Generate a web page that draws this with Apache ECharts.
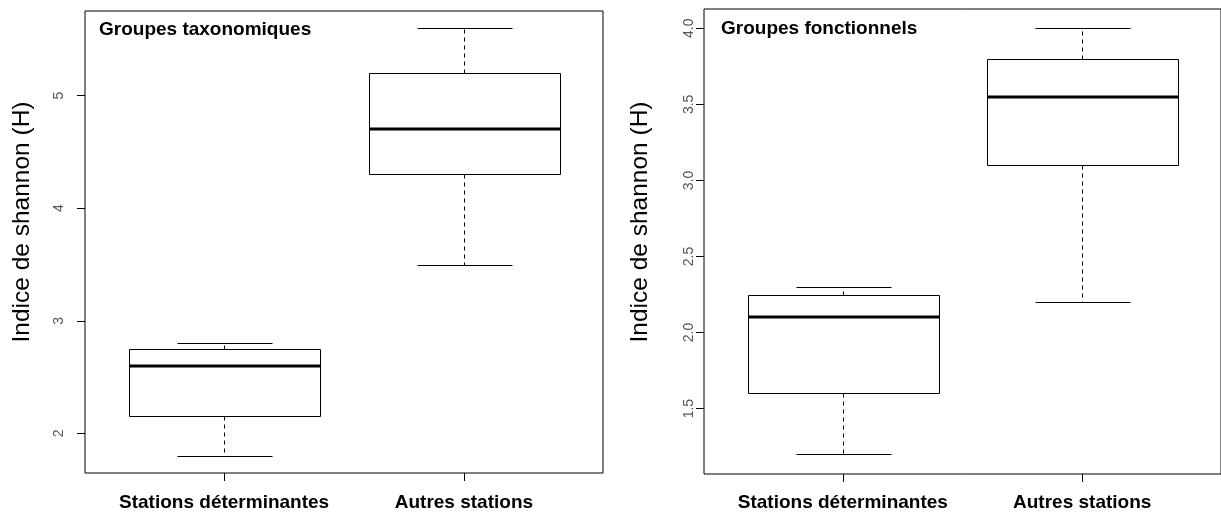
<!DOCTYPE html>
<html>
<head>
<meta charset="utf-8">
<script src="https://cdn.jsdelivr.net/npm/echarts@6/dist/echarts.min.js"></script>
<style>
  html, body { margin: 0; padding: 0; background: #fff; }
  #chart { width: 1221px; height: 514px; }
</style>
</head>
<body>
<div id="chart"></div>
<script>
// Station groups shown on the x axis of both panels
const categories = ['Stations déterminantes', 'Autres stations'];

// Box statistics per group: [lower whisker, Q1, median, Q3, upper whisker]
const taxoStats = [
  [1.8, 2.15, 2.6, 2.75, 2.8],
  [3.5, 4.3, 4.7, 5.2, 5.6]
];
const fonctStats = [
  [1.2, 1.6, 2.1, 2.25, 2.3],
  [2.2, 3.1, 3.55, 3.8, 4.0]
];

// Tick values of the y axes
const taxoTicks = [2, 3, 4, 5];
const fonctTicks = [1.5, 2.0, 2.5, 3.0, 3.5, 4.0];

// Panel titles and axis title
const panelTitles = ['Groupes taxonomiques', 'Groupes fonctionnels'];
const yTitle = 'Indice de shannon (H)';

const FONT = '"Liberation Sans", Arial, Helvetica, sans-serif';
const BOX_WEX = 0.8;   // box width in x units
const STAPLE = 0.5;    // cap width relative to the box

const chart = echarts.init(document.getElementById('chart'), null, { renderer: 'canvas' });

function crisp(v) { return Math.round(v) + 0.5; }

function renderBox(params, api) {
  const x = api.value(0);
  const pLo = api.coord([x, api.value(1)]);
  const pQ1 = api.coord([x, api.value(2)]);
  const pMed = api.coord([x, api.value(3)]);
  const pQ3 = api.coord([x, api.value(4)]);
  const pHi = api.coord([x, api.value(5)]);
  const half = api.size([BOX_WEX, 0])[0] / 2;
  const capHalf = half * STAPLE;
  const cx = crisp(pMed[0]);
  const left = crisp(cx - half), right = crisp(cx + half);
  const stroke = { stroke: '#000', lineWidth: 1, fill: null };
  const dashed = { stroke: '#000', lineWidth: 1, lineDash: [4, 4], fill: null };
  const yLo = crisp(pLo[1]), yQ1 = crisp(pQ1[1]), yQ3 = crisp(pQ3[1]), yHi = crisp(pHi[1]);
  return {
    type: 'group',
    children: [
      { type: 'line', shape: { x1: cx, y1: yQ3, x2: cx, y2: yHi }, style: dashed },
      { type: 'line', shape: { x1: cx, y1: yQ1, x2: cx, y2: yLo }, style: dashed },
      { type: 'line', shape: { x1: crisp(cx - capHalf), y1: yHi, x2: crisp(cx + capHalf), y2: yHi }, style: stroke },
      { type: 'line', shape: { x1: crisp(cx - capHalf), y1: yLo, x2: crisp(cx + capHalf), y2: yLo }, style: stroke },
      { type: 'rect', shape: { x: left, y: yQ3, width: right - left, height: yQ1 - yQ3 },
        style: { stroke: '#000', lineWidth: 1, fill: '#fff' } },
      { type: 'line', shape: { x1: left, y1: Math.round(pMed[1]), x2: right, y2: Math.round(pMed[1]) },
        style: { stroke: '#000', lineWidth: 3 } }
    ]
  };
}

function xAxisFor(gridIndex, margin) {
  return {
    type: 'value', gridIndex, min: 0.42, max: 2.58,
    axisLine: { show: false },
    splitLine: { show: false },
    axisTick: { show: true, length: 8, customValues: [1, 2], lineStyle: { color: '#000' } },
    axisLabel: {
      customValues: [1, 2], margin,
      formatter: v => categories[Math.round(v) - 1],
      fontFamily: FONT, fontSize: 19, fontWeight: 'bold', color: '#000'
    }
  };
}

function yAxisFor(gridIndex, min, max, ticks, digits, labelMargin) {
  return {
    type: 'value', gridIndex, min, max,
    axisLine: { show: false },
    splitLine: { show: false },
    axisTick: { show: true, length: 8, customValues: ticks, lineStyle: { color: '#000' } },
    axisLabel: {
      customValues: ticks, rotate: 90, margin: labelMargin,
      formatter: v => v.toFixed(digits),
      fontFamily: FONT, fontSize: 14, color: '#555'
    }
  };
}

// Rotated y-axis title placed beside each panel
function yTitleText(cx, cy) {
  return {
    type: 'text', x: cx, y: cy, rotation: Math.PI / 2,
    style: { text: yTitle, font: '24.5px ' + FONT, fill: '#000', align: 'center', verticalAlign: 'middle' }
  };
}

const option = {
  backgroundColor: '#fff',
  animation: false,
  grid: [
    { left: 85, top: 11, width: 518, height: 462, show: true, borderColor: '#000', borderWidth: 1, backgroundColor: 'transparent' },
    { left: 704, top: 9, width: 518, height: 465, show: true, borderColor: '#000', borderWidth: 1, backgroundColor: 'transparent' }
  ],
  xAxis: [xAxisFor(0, 20), xAxisFor(1, 19)],
  yAxis: [
    yAxisFor(0, 1.648, 5.752, taxoTicks, 0, 19),
    yAxisFor(1, 1.07, 4.127, fonctTicks, 1, 8)
  ],
  graphic: [
    { type: 'text', left: 99, top: 20, style: { text: panelTitles[0], font: 'bold 19px ' + FONT, fill: '#000' } },
    { type: 'text', left: 721, top: 19, style: { text: panelTitles[1], font: 'bold 19px ' + FONT, fill: '#000' } },
    yTitleText(22, 222),
    yTitleText(640, 222)
  ],
  series: [
    {
      type: 'custom', xAxisIndex: 0, yAxisIndex: 0,
      renderItem: renderBox,
      encode: { x: 0, y: [1, 2, 3, 4, 5] },
      data: taxoStats.map((s, i) => [i + 1].concat(s))
    },
    {
      type: 'custom', xAxisIndex: 1, yAxisIndex: 1,
      renderItem: renderBox,
      encode: { x: 0, y: [1, 2, 3, 4, 5] },
      data: fonctStats.map((s, i) => [i + 1].concat(s))
    }
  ]
};

chart.setOption(option);
</script>
</body>
</html>
